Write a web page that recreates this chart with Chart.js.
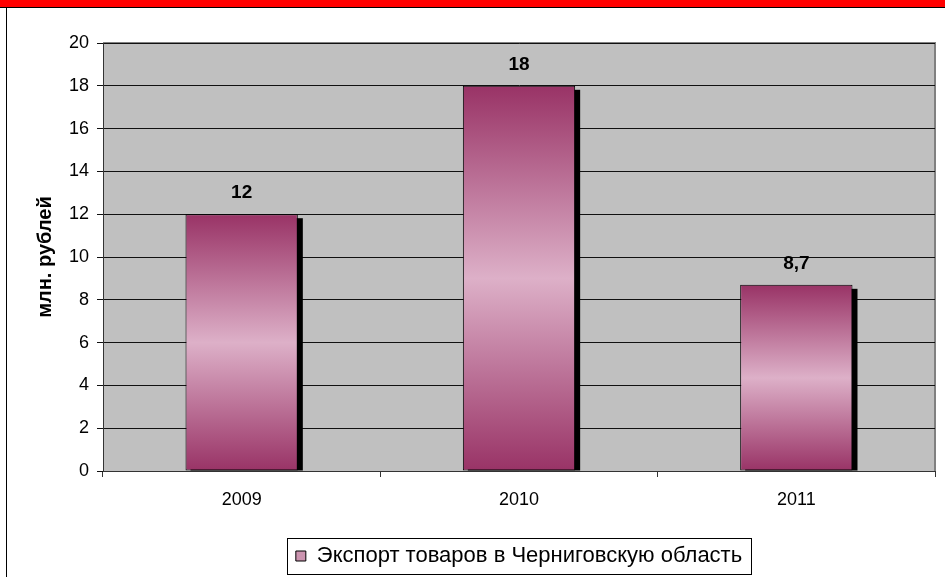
<!DOCTYPE html>
<html>
<head>
<meta charset="utf-8">
<title>Экспорт товаров в Черниговскую область</title>
<script src="https://cdn.jsdelivr.net/npm/chart.js@4/dist/chart.umd.min.js"></script>
<style>
  html, body { margin: 0; padding: 0; background: #fff; }
  #wrap { position: relative; width: 945px; height: 577px; overflow: hidden; }
  #band { position: absolute; left: 0; top: 0; width: 945px; height: 7px; background: #ff0000; border-bottom: 1px solid #000; }
  #edge { position: absolute; left: 6px; top: 8px; width: 1px; height: 569px; background: #000; }
  #chart { position: absolute; left: 0; top: 0; }
</style>
</head>
<body>
<div id="wrap">
  <div id="band"></div>
  <div id="edge"></div>
  <canvas id="chart" width="945" height="577"></canvas>
</div>
<script>
// ─── Data ───────────────────────────────────────────────────

const years = ['2009', '2010', '2011'];
const exportValues = [12, 18, 8.7];
const valueLabels = ['12', '18', '8,7'];
const yTicks = [0, 2, 4, 6, 8, 10, 12, 14, 16, 18, 20];
const seriesName = 'Экспорт товаров в Черниговскую область';
const axisTitle = 'млн. рублей';

// ─── Styling ────────────────────────────────────────────────

const FONT = '"Liberation Sans", Arial, sans-serif';
const BAR_DARK = '#993366';
const BAR_LIGHT = '#ddb0c8';
const PLOT_BG = '#c0c0c0';

Chart.defaults.font.family = FONT;
Chart.defaults.color = '#000';

function barGradient(ctx) {
  const chart = ctx.chart;
  const y = chart.scales && chart.scales.y;
  if (!y || ctx.type !== 'data') return '#cc94b0';
  const top = y.getPixelForValue(ctx.raw);
  const base = y.getPixelForValue(0);
  if (!isFinite(top) || !isFinite(base) || base === top) return '#cc94b0';
  const g = chart.ctx.createLinearGradient(0, top, 0, base);
  g.addColorStop(0, BAR_DARK);
  g.addColorStop(0.5, BAR_LIGHT);
  g.addColorStop(1, BAR_DARK);
  return g;
}

// ─── Plugins ────────────────────────────────────────────────

const plotBackground = {
  id: 'plotBackground',
  beforeDraw(chart) {
    const { ctx, chartArea: a } = chart;
    ctx.save();
    ctx.fillStyle = PLOT_BG;
    ctx.fillRect(a.left, a.top, a.right - a.left, a.bottom - a.top);
    ctx.strokeStyle = '#808080';
    ctx.lineWidth = 2;
    ctx.beginPath();
    ctx.moveTo(a.left, a.top);
    ctx.lineTo(a.right, a.top);
    ctx.lineTo(a.right, a.bottom);
    ctx.stroke();
    ctx.restore();
  },
};

const barShadow = {
  id: 'barShadow',
  beforeDatasetsDraw(chart) {
    const { ctx, chartArea: a } = chart;
    const meta = chart.getDatasetMeta(0);
    ctx.save();
    ctx.beginPath();
    ctx.rect(a.left, a.top, a.right - a.left, a.bottom - a.top);
    ctx.clip();
    ctx.fillStyle = '#000';
    meta.data.forEach(bar => {
      const left = bar.x - bar.width / 2 + 5;
      const top = bar.y + 4;
      ctx.fillRect(left, top, bar.width, bar.base - top);
    });
    ctx.restore();
  },
};

const valueLabelsPlugin = {
  id: 'valueLabels',
  afterDatasetsDraw(chart) {
    const { ctx } = chart;
    const meta = chart.getDatasetMeta(0);
    ctx.save();
    ctx.font = 'bold 19px ' + FONT;
    ctx.fillStyle = '#000';
    ctx.textAlign = 'center';
    ctx.textBaseline = 'middle';
    meta.data.forEach((bar, i) => {
      ctx.fillText(valueLabels[i], bar.x, bar.y - 21);
    });
    ctx.restore();
  },
};

const legendFrame = {
  id: 'legendFrame',
  afterDraw(chart) {
    const lg = chart.legend;
    if (!lg || !lg.legendHitBoxes || !lg.legendHitBoxes.length) return;
    const hb = lg.legendHitBoxes[0];
    const { ctx } = chart;
    const cy = hb.top + hb.height / 2;
    ctx.save();
    ctx.strokeStyle = '#000';
    ctx.lineWidth = 1;
    ctx.strokeRect(Math.round(hb.left - 9) + 0.5, Math.round(cy - 18) + 0.5,
      Math.round(hb.width + 18), 36);
    ctx.restore();
  },
};

// ─── Chart ──────────────────────────────────────────────────

new Chart(document.getElementById('chart'), {
  type: 'bar',
  data: {
    labels: years,
    datasets: [{
      label: seriesName,
      data: exportValues,
      backgroundColor: barGradient,
      borderColor: '#000',
      borderWidth: 1,
      borderSkipped: false,
      categoryPercentage: 1,
      barPercentage: 0.405,
    }],
  },
  options: {
    responsive: false,
    animation: false,
    events: [],
    layout: { padding: { left: 25, top: 43, right: 10, bottom: 0 } },
    plugins: {
      tooltip: { enabled: false },
      legend: {
        position: 'bottom',
        fullSize: false,
        labels: {
          boxWidth: 10,
          boxHeight: 10,
          padding: 1,
          font: { size: 22 },
          color: '#000',
          generateLabels: () => [{
            text: seriesName,
            fillStyle: '#cc94b0',
            strokeStyle: '#000',
            lineWidth: 1,
            datasetIndex: 0,
          }],
        },
      },
    },
    scales: {
      x: {
        grid: {
          offset: true,
          drawOnChartArea: false,
          drawTicks: true,
          tickLength: 6,
          color: '#333',
        },
        border: { color: '#333', width: 1 },
        ticks: { font: { size: 18 }, padding: 12, color: '#000' },
        afterFit: scale => { scale.height = 73; },
      },
      y: {
        min: 0,
        max: 20,
        afterBuildTicks: scale => { scale.ticks = yTicks.map(v => ({ value: v })); },
        grid: { color: '#111', tickLength: 6, lineWidth: 1 },
        border: { color: '#333', width: 1 },
        ticks: { font: { size: 18 }, padding: 8, color: '#000' },
        title: {
          display: true,
          text: axisTitle,
          font: { size: 20, weight: 'bold' },
          color: '#000',
          padding: { top: 8, bottom: 0 },
        },
        afterFit: scale => { scale.width = 78; },
      },
    },
  },
  plugins: [plotBackground, barShadow, valueLabelsPlugin, legendFrame],
});
</script>
</body>
</html>
